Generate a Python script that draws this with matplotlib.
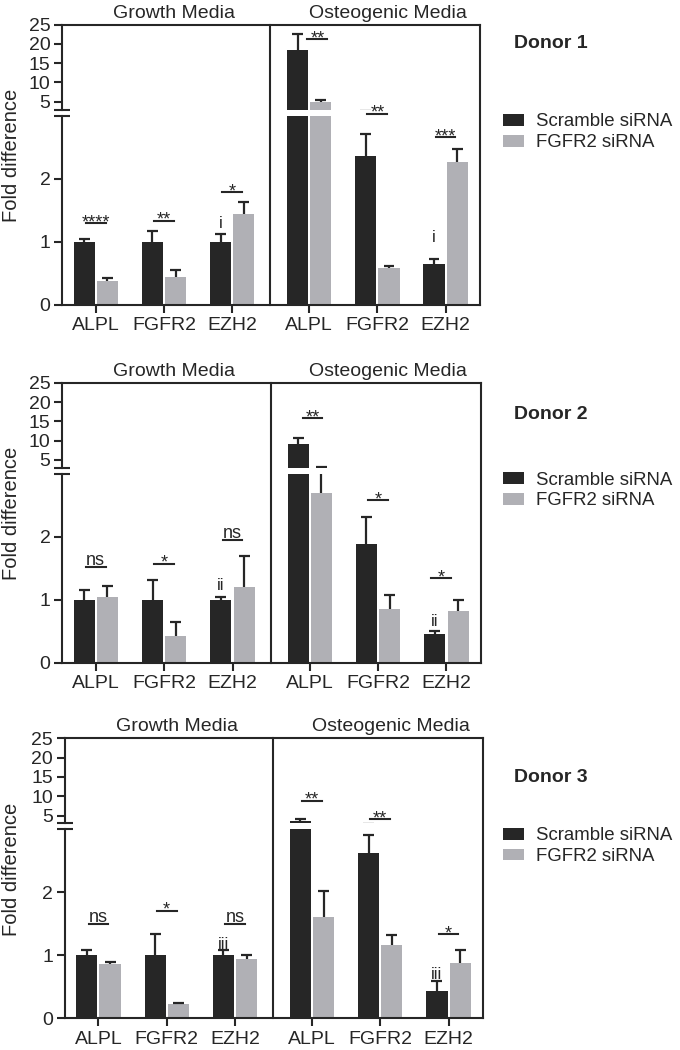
import numpy as np
import matplotlib
matplotlib.use('Agg')
import matplotlib.pyplot as plt
from matplotlib.patches import Patch

plt.rcParams['font.family'] = ['Liberation Sans', 'DejaVu Sans']

genes = ['ALPL', 'FGFR2', 'EZH2']
media = ['Growth Media', 'Osteogenic Media']
series = ['Scramble siRNA', 'FGFR2 siRNA']
donors = ['Donor 1', 'Donor 2', 'Donor 3']

# value order: growth ALPL, FGFR2, EZH2, then osteogenic ALPL, FGFR2, EZH2
# *_top = top of the (upward only) error bar
d1_scr = [1.0, 1.0, 1.0, 18.5, 2.35, 0.65]
d1_scr_top = [1.04, 1.16, 1.12, 22.5, 2.71, 0.72]
d1_kd = [0.37, 0.43, 1.43, 5.0, 0.58, 2.26]
d1_kd_top = [0.42, 0.54, 1.62, 5.5, 0.61, 2.47]
d1_sig = ['****', '**', '*', '**', '**', '***']
d1_sig_y = [1.29, 1.33, 1.78, 21.2, 3.03, 2.66]
d1_sig_dx = [0, 0, 0, 0.12, 0, 0]
d1_mark = 'i'
d1_mark_y = [1.21, 1.00]

d2_scr = [1.0, 1.0, 1.0, 9.1, 1.89, 0.46]
d2_scr_top = [1.16, 1.31, 1.04, 10.8, 2.32, 0.50]
d2_kd = [1.05, 0.42, 1.20, 2.69, 0.85, 0.82]
d2_kd_top = [1.22, 0.64, 1.70, 3.25, 1.07, 0.99]
d2_sig = ['ns', '*', 'ns', '**', '*', '*']
d2_sig_y = [1.52, 1.57, 1.95, 15.8, 2.58, 1.34]
d2_sig_dx = [0, 0, 0, 0.04, 0, -0.08]
d2_mark = 'ii'
d2_mark_y = [1.15, 0.58]

d3_scr = [1.0, 1.0, 1.0, 3.5, 2.62, 0.44]
d3_scr_top = [1.08, 1.34, 1.08, 4.0, 2.91, 0.59]
d3_kd = [0.86, 0.22, 0.94, 1.61, 1.16, 0.87]
d3_kd_top = [0.90, 0.24, 1.00, 2.02, 1.32, 1.08]
d3_sig = ['ns', '*', 'ns', '**', '**', '*']
d3_sig_y = [1.49, 1.71, 1.49, 8.9, 4.0, 1.34]
d3_sig_dx = [0, 0, 0, 0, 0, 0]
d3_mark = 'iii'
d3_mark_y = [1.10, 0.63]

DARK = '#262626'
GREY = '#b0b0b5'
W, H = 680, 1050
FS = 14

fig = plt.figure(figsize=(W / 100, H / 100), dpi=100)

x = np.r_[np.arange(3), np.arange(3) + 3.13]
xlim = (-0.49, 5.635)
divider = 2.56
bw, off, cw = 0.31, 0.17, 0.08


def draw_panel(top, left, right, scr, scr_top, kd, kd_top, sig, sig_y, sig_dx,
               mark, mark_y, donor, donor_dy):
    up_h, gap, lo_h = 85, 6, 189
    ax_up = fig.add_axes([left / W, 1 - (top + up_h) / H, (right - left) / W, up_h / H])
    ax_lo = fig.add_axes([left / W, 1 - (top + up_h + gap + lo_h) / H,
                          (right - left) / W, lo_h / H])

    for ax in (ax_up, ax_lo):
        ax.bar(x - off, scr, bw, color=DARK, zorder=2)
        ax.bar(x + off, kd, bw, color=GREY, zorder=2)
        for xc, v, t in [(x - off, scr, scr_top), (x + off, kd, kd_top)]:
            ax.vlines(xc, v, t, color=DARK, lw=1.6, zorder=3)
            ax.hlines(t, xc - cw, xc + cw, color=DARK, lw=1.6, zorder=3)
        ax.set_xlim(*xlim)
        ax.spines['right'].set_visible(False)
        for s in ax.spines.values():
            s.set_linewidth(1.5)
            s.set_color(DARK)
        ax.tick_params(axis='y', length=6, width=1.5, pad=2.5, labelsize=FS, colors=DARK)

    ax_up.set_ylim(3, 25)
    ax_up.set_yticks([5, 10, 15, 20, 25])
    ax_up.spines['bottom'].set_visible(False)
    ax_up.set_xticks([])
    ax_lo.set_ylim(0, 3)
    ax_lo.set_yticks([0, 1, 2])
    ax_lo.spines['top'].set_visible(False)
    ax_lo.set_xticks(x)
    ax_lo.set_xticklabels(genes * 2)
    ax_lo.tick_params(axis='x', length=6, width=1.5, pad=3, labelsize=FS, colors=DARK)

    # axis break marks on the y axis
    ax_up.plot([0], [0], transform=ax_up.transAxes, marker='_', ms=11, mew=1.5,
               color=DARK, clip_on=False)
    ax_lo.plot([0], [1], transform=ax_lo.transAxes, marker='_', ms=11, mew=1.5,
               color=DARK, clip_on=False)

    # divider between media and right frame, continuous across the break
    ext = (lo_h + gap + up_h) / lo_h
    for xv in (divider, xlim[1]):
        ax_lo.axvline(xv, 0, ext, color=DARK, lw=1.5, clip_on=False)

    # media titles
    for i, name in enumerate(media):
        ax_up.annotate(name, xy=(x[3 * i + 1] + 0.15, 1), xycoords=('data', 'axes fraction'),
                       xytext=(0, 5), textcoords='offset points', ha='center',
                       va='baseline', fontsize=FS, color=DARK)

    # significance bars
    for xc, lab, yv, dx in zip(x, sig, sig_y, sig_dx):
        ax = ax_up if yv > 3.1 else ax_lo
        ax.plot([xc + dx - 0.145, xc + dx + 0.145], [yv, yv], color=DARK, lw=1.5,
                clip_on=False)
        dy = -3 if '*' in lab else 1.5
        ax.annotate(lab, xy=(xc + dx, yv), xytext=(0, dy), textcoords='offset points',
                    ha='center', va='baseline', fontsize=13, color=DARK,
                    annotation_clip=False)

    # roman numerals above the EZH2 scramble bars
    for xc, yv in zip([x[2], x[5]], mark_y):
        ax_lo.text(xc - off, yv, mark, ha='center', va='baseline', fontsize=12, color=DARK)

    fig.text(11.7 / W, 1 - (top + 131) / H, 'Fold difference', rotation=90,
             ha='center', va='center', fontsize=14.5, color=DARK)
    fig.text(514 / W, 1 - (top + donor_dy) / H, donor, fontweight='bold',
             ha='left', va='center', fontsize=14, color=DARK)
    handles = [Patch(facecolor=DARK), Patch(facecolor=GREY)]
    fig.legend(handles, series, loc='upper left',
               bbox_to_anchor=(503 / W, 1 - (top + 89) / H), frameon=False,
               fontsize=13.4, handlelength=1.15, handleheight=0.6, handletextpad=0.65,
               labelspacing=0.2, borderpad=0, borderaxespad=0, labelcolor=DARK)


draw_panel(24.5, 62.3, 480, d1_scr, d1_scr_top, d1_kd, d1_kd_top, d1_sig, d1_sig_y,
           d1_sig_dx, d1_mark, d1_mark_y, donors[0], 19)
draw_panel(382.7, 62.3, 481, d2_scr, d2_scr_top, d2_kd, d2_kd_top, d2_sig, d2_sig_y,
           d2_sig_dx, d2_mark, d2_mark_y, donors[1], 32)
draw_panel(738.3, 65, 483, d3_scr, d3_scr_top, d3_kd, d3_kd_top, d3_sig, d3_sig_y,
           d3_sig_dx, d3_mark, d3_mark_y, donors[2], 39)

fig.savefig('out.png', dpi=100)
